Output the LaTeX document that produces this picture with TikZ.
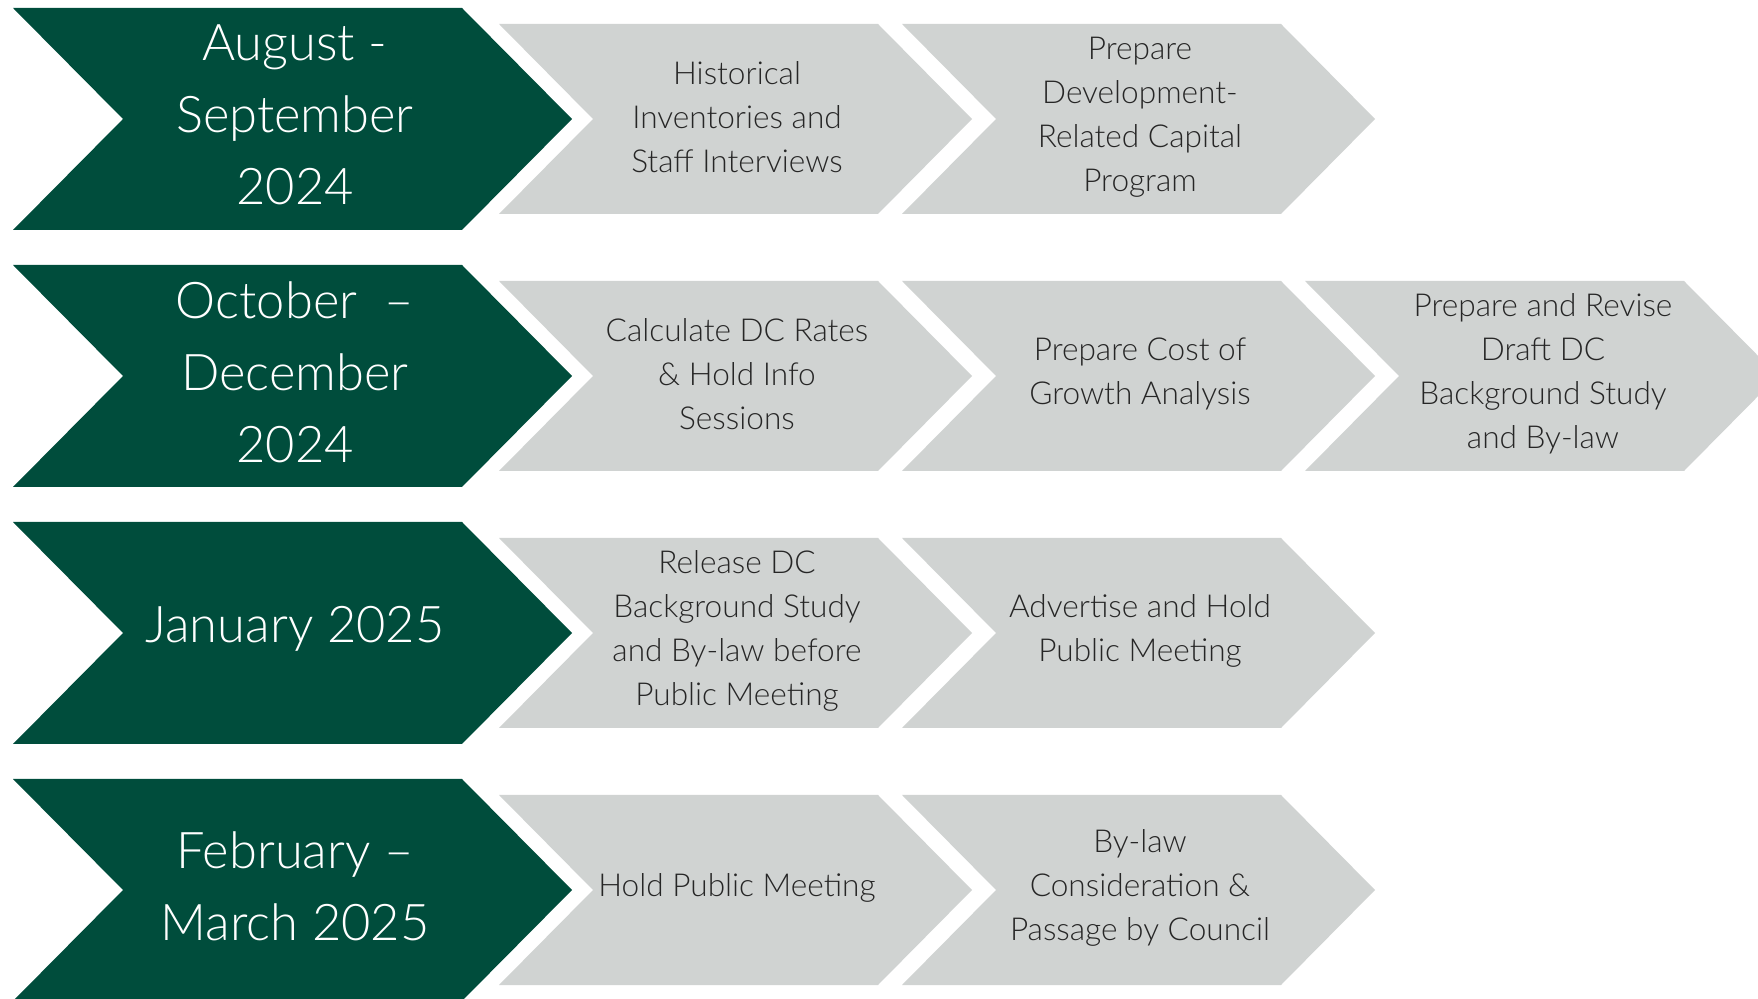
\documentclass[tikz,border=0pt]{standalone}
\usepackage{fontspec}
\setmainfont{Lato}[UprightFont=* Light]
\definecolor{phasegreen}{HTML}{004D3C}
\definecolor{stepgrey}{HTML}{D0D3D2}
\definecolor{steptext}{HTML}{262626}
% #1 left x, #2 centre y, #3 node name, #4 text
\newcommand\greenchev[4]{%
  \fill[phasegreen] (#1,#2-111) -- (#1+449,#2-111) -- (#1+559,#2) -- (#1+449,#2+111)
    -- (#1,#2+111) -- (#1+110,#2) -- cycle;
  \node[phasetext] (#3) at (#1+282,#2-4) {#4};}
\newcommand\greychev[4]{%
  \fill[stepgrey] (#1,#2-95) -- (#1+379,#2-95) -- (#1+473,#2) -- (#1+379,#2+95)
    -- (#1,#2+95) -- (#1+94,#2) -- cycle;
  \node[tasktext] (#3) at (#1+238,#2-2) {#4};}
\begin{document}
\begin{tikzpicture}[x=0.5pt,y=-0.5pt,
  phasetext/.style={text=white,align=center,inner sep=0pt,
    font=\fontsize{25.3}{36}\selectfont},
  tasktext/.style={text=steptext,align=center,inner sep=0pt,
    font=\fontsize{15.8}{22}\selectfont}]
\useasboundingbox (0,0) rectangle (1758,999);
\clip (0,0) rectangle (1758,999);
% row 1
\greenchev{13}{119}{p1}{August -\\September\\2024}
\greychev{499}{119}{t11}{Historical\\Inventories and\\Staff Interviews}
\greychev{902}{119}{t12}{Prepare\\Development-\\Related Capital\\Program}
% row 2
\greenchev{13}{376}{p2}{October\ \ –\\December\\2024}
\greychev{499}{376}{t21}{Calculate DC Rates\\\& Hold Info\\Sessions}
\greychev{902}{376}{t22}{Prepare Cost of\\Growth Analysis}
\greychev{1305}{376}{t23}{Prepare and Revise\\Draft DC\\Background Study\\and By-law}
% row 3
\greenchev{13}{633}{p3}{January 2025}
\greychev{499}{633}{t31}{Release DC\\Background Study\\and By-law before\\Public Meeting}
\greychev{902}{633}{t32}{Advertise and Hold\\Public Meeting}
% row 4
\greenchev{13}{890}{p4}{February –\\March 2025}
\greychev{499}{890}{t41}{Hold Public Meeting}
\greychev{902}{890}{t42}{By-law\\Consideration \&\\Passage by Council}
\end{tikzpicture}
\end{document}
